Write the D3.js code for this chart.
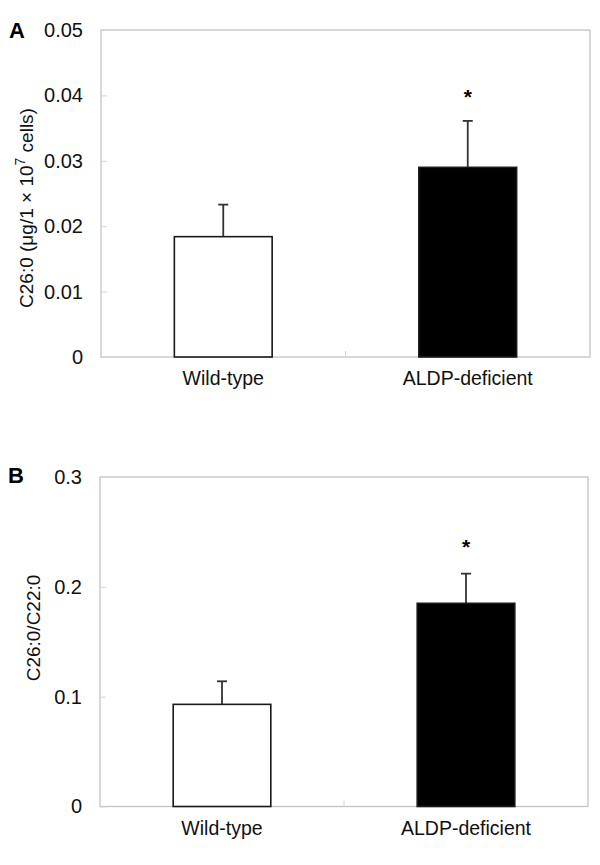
<!DOCTYPE html>
<html>
<head>
<meta charset="utf-8">
<script src="https://cdn.jsdelivr.net/npm/d3@7"></script>
<style>
  body { margin: 0; background: #fff; }
  svg { display: block; font-family: "Liberation Sans", Arial, sans-serif; }
</style>
</head>
<body>
<svg id="chart" width="600" height="865"></svg>
<script>
// ---- data ----
const categories = ["Wild-type", "ALDP-deficient"];
const c26Values = [0.0184, 0.0290];
const c26Errors = [0.0049, 0.0071];
const c26Ticks = [0, 0.01, 0.02, 0.03, 0.04, 0.05];
const c26TickLabels = ["0", "0.01", "0.02", "0.03", "0.04", "0.05"];
const ratioValues = [0.093, 0.185];
const ratioErrors = [0.021, 0.027];
const ratioTicks = [0, 0.1, 0.2, 0.3];
const ratioTickLabels = ["0", "0.1", "0.2", "0.3"];
const significance = ["", "*"];
const barColors = ["#ffffff", "#000000"];

const svg = d3.select("#chart");

function panel(opts) {
  const g = svg.append("g");
  const x = d3.scaleBand().domain(categories).range([opts.left, opts.right])
    .paddingInner(0.6).paddingOuter(0.3);
  const y = d3.scaleLinear().domain([0, opts.max]).range([opts.bottom, opts.top]);

  // frame
  g.append("rect")
    .attr("x", opts.left).attr("y", opts.top)
    .attr("width", opts.right - opts.left).attr("height", opts.bottom - opts.top)
    .attr("fill", "none").attr("stroke", "#c4c4c4").attr("stroke-width", 1.3);

  // y axis
  const ya = g.append("g").attr("transform", `translate(${opts.left},0)`)
    .call(d3.axisLeft(y).tickValues(opts.ticks)
      .tickFormat((d, i) => opts.tickLabels[i]).tickSize(-6).tickPadding(18));
  ya.select(".domain").remove();
  ya.selectAll(".tick line").attr("stroke", "#d4d4d4").attr("stroke-width", 1);
  ya.selectAll(".tick text").attr("font-size", 20).attr("fill", "#111")
    .attr("font-family", "Liberation Sans, Arial, sans-serif");

  // x axis middle tick
  const mid = (x.range()[0] + x.range()[1]) / 2;
  g.append("line").attr("x1", mid).attr("x2", mid)
    .attr("y1", opts.bottom).attr("y2", opts.bottom - 6)
    .attr("stroke", "#d4d4d4").attr("stroke-width", 1);

  // category labels
  g.selectAll("text.cat").data(categories).join("text")
    .attr("class", "cat")
    .attr("x", d => x(d) + x.bandwidth() / 2)
    .attr("y", opts.bottom + 28)
    .attr("text-anchor", "middle").attr("font-size", 19.5).attr("fill", "#111")
    .text(d => d);

  // error bars
  const eg = g.selectAll("g.err").data(categories).join("g").attr("class", "err");
  eg.append("line")
    .attr("x1", d => x(d) + x.bandwidth() / 2).attr("x2", d => x(d) + x.bandwidth() / 2)
    .attr("y1", (d, i) => y(opts.values[i]))
    .attr("y2", (d, i) => y(opts.values[i] + opts.errors[i]))
    .attr("stroke", "#333").attr("stroke-width", 1.8);
  eg.append("line")
    .attr("x1", d => x(d) + x.bandwidth() / 2 - 5).attr("x2", d => x(d) + x.bandwidth() / 2 + 5)
    .attr("y1", (d, i) => y(opts.values[i] + opts.errors[i]))
    .attr("y2", (d, i) => y(opts.values[i] + opts.errors[i]))
    .attr("stroke", "#333").attr("stroke-width", 1.8);

  // bars
  g.selectAll("rect.bar").data(categories).join("rect")
    .attr("class", "bar")
    .attr("x", d => x(d)).attr("width", x.bandwidth())
    .attr("y", (d, i) => y(opts.values[i]))
    .attr("height", (d, i) => y(0) - y(opts.values[i]))
    .attr("fill", (d, i) => barColors[i])
    .attr("stroke", "#1a1a1a").attr("stroke-width", 1.6);

  // significance
  g.selectAll("text.sig").data(categories).join("text")
    .attr("class", "sig")
    .attr("x", d => x(d) + x.bandwidth() / 2)
    .attr("y", (d, i) => y(opts.values[i] + opts.errors[i]) - opts.sigGap)
    .attr("text-anchor", "middle").attr("font-size", 21).attr("font-weight", "bold")
    .text((d, i) => significance[i]);

  // panel letter
  g.append("text").attr("x", opts.letterX).attr("y", opts.letterY)
    .attr("font-size", 22).attr("font-weight", "bold").text(opts.letter);

  // y title
  const t = g.append("text")
    .attr("transform", `translate(${opts.titleX},${opts.titleY}) rotate(-90)`)
    .attr("text-anchor", "middle").attr("font-size", 19).attr("fill", "#111");
  opts.title(t);
}

panel({
  left: 101, right: 590, top: 30, bottom: 357,
  max: 0.05, ticks: c26Ticks, tickLabels: c26TickLabels,
  values: c26Values, errors: c26Errors, sigGap: 17,
  letter: "A", letterX: 9, letterY: 38,
  titleX: 33, titleY: 208,
  title: t => {
    t.append("tspan").text("C26:0 (μg/1 × 10");
    t.append("tspan").attr("baseline-shift", "super").attr("font-size", 14).text("7");
    t.append("tspan").text(" cells)");
  }
});

panel({
  left: 100, right: 588, top: 477, bottom: 806.5,
  max: 0.3, ticks: ratioTicks, tickLabels: ratioTickLabels,
  values: ratioValues, errors: ratioErrors, sigGap: 20,
  letter: "B", letterX: 8, letterY: 483,
  titleX: 40, titleY: 628,
  title: t => { t.text("C26:0/C22:0"); }
});
</script>
</body>
</html>
